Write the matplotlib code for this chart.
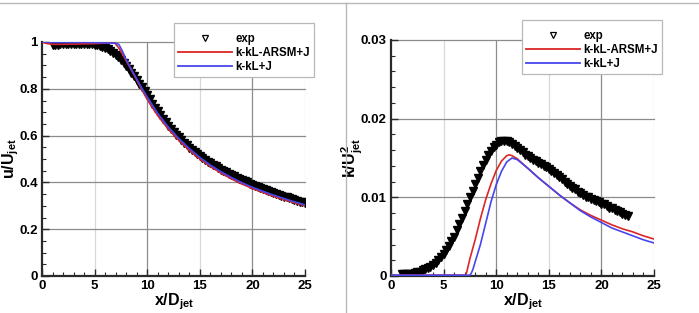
import matplotlib

matplotlib.use("Agg")
import matplotlib.pyplot as plt
from matplotlib.lines import Line2D
from matplotlib.ticker import MultipleLocator

plt.rcParams["font.family"] = ["Liberation Sans", "DejaVu Sans"]
plt.rcParams["font.weight"] = "bold"
plt.rcParams["mathtext.fontset"] = "custom"
plt.rcParams["mathtext.rm"] = "Liberation Sans"
plt.rcParams["mathtext.bf"] = "Liberation Sans:bold"
plt.rcParams["mathtext.it"] = "Liberation Sans:italic"

# ---- left panel: centreline velocity decay ----
u_exp_x = [1.0, 1.25, 1.5, 1.75, 2.0, 2.25, 2.5, 2.75, 3.0, 3.25, 3.5, 3.75,
           4.0, 4.25, 4.5, 4.75, 5.0, 5.25, 5.5, 5.75, 6.0, 6.25, 6.5, 6.75,
           7.0, 7.25, 7.5, 7.75, 8.0, 8.25, 8.5, 8.75, 9.0, 9.25, 9.5, 9.75,
           10.0, 10.25, 10.5, 10.75, 11.0, 11.25, 11.5, 11.75, 12.0, 12.25,
           12.5, 12.75, 13.0, 13.25, 13.5, 13.75, 14.0, 14.25, 14.5, 14.75,
           15.0, 15.25, 15.5, 15.75, 16.0, 16.25, 16.5, 16.75, 17.0, 17.25,
           17.5, 17.75, 18.0, 18.25, 18.5, 18.75, 19.0, 19.25, 19.5, 19.75,
           20.0, 20.25, 20.5, 20.75, 21.0, 21.25, 21.5, 21.75, 22.0, 22.25,
           22.5, 22.75, 23.0, 23.25, 23.5, 23.75, 24.0, 24.25, 24.5, 24.75, 25.0]
u_exp = [0.986, 0.988, 0.989, 0.990, 0.990, 0.991, 0.991, 0.992, 0.992, 0.993,
         0.993, 0.993, 0.992, 0.992, 0.991, 0.990, 0.988, 0.986, 0.983, 0.979,
         0.974, 0.968, 0.961, 0.953, 0.944, 0.934, 0.923, 0.911, 0.898, 0.884,
         0.869, 0.854, 0.838, 0.822, 0.806, 0.790, 0.775, 0.756, 0.737, 0.720,
         0.703, 0.687, 0.672, 0.657, 0.643, 0.630, 0.617, 0.604, 0.592, 0.581,
         0.570, 0.560, 0.549, 0.540, 0.530, 0.521, 0.512, 0.504, 0.497, 0.489,
         0.482, 0.475, 0.468, 0.461, 0.455, 0.449, 0.443, 0.437, 0.431, 0.426,
         0.420, 0.415, 0.410, 0.405, 0.400, 0.395, 0.390, 0.385, 0.381, 0.376,
         0.371, 0.367, 0.363, 0.359, 0.355, 0.351, 0.347, 0.343, 0.339, 0.336,
         0.332, 0.329, 0.325, 0.322, 0.318, 0.315, 0.312]

u_model_x = [0.0, 0.5, 1.0, 2.0, 3.0, 4.0, 5.0, 6.0, 6.9, 7.3, 7.6, 8.0, 8.5,
             9.0, 9.5, 10.0, 11.0, 12.0, 13.0, 14.0, 15.0, 16.0, 17.0, 18.0,
             19.0, 20.0, 21.0, 22.0, 23.0, 24.0, 25.0]
u_arsm = [1.000, 0.993, 0.990, 0.990, 0.991, 0.992, 0.993, 0.995, 0.997, 0.975,
          0.952, 0.920, 0.880, 0.838, 0.795, 0.755, 0.685, 0.628, 0.580, 0.537,
          0.500, 0.468, 0.440, 0.415, 0.393, 0.374, 0.357, 0.341, 0.326, 0.313,
          0.300]
u_kkl = [1.000, 1.000, 0.998, 0.998, 0.998, 0.998, 0.997, 0.996, 0.995, 0.990,
         0.965, 0.925, 0.882, 0.842, 0.802, 0.765, 0.695, 0.637, 0.588, 0.545,
         0.507, 0.474, 0.446, 0.421, 0.399, 0.379, 0.362, 0.346, 0.331, 0.317,
         0.304]

# ---- right panel: centreline turbulent kinetic energy ----
k_exp_x = [1.0, 1.25, 1.5, 1.75, 2.0, 2.25, 2.5, 2.75, 3.0, 3.25, 3.5, 3.75,
           4.0, 4.25, 4.5, 4.75, 5.0, 5.25, 5.5, 5.75, 6.0, 6.25, 6.5, 6.75,
           7.0, 7.25, 7.5, 7.75, 8.0, 8.25, 8.5, 8.75, 9.0, 9.25, 9.5, 9.75,
           10.0, 10.25, 10.5, 10.75, 11.0, 11.25, 11.5, 11.75, 12.0, 12.25,
           12.5, 12.75, 13.0, 13.25, 13.5, 13.75, 14.0, 14.25, 14.5, 14.75,
           15.0, 15.25, 15.5, 15.75, 16.0, 16.25, 16.5, 16.75, 17.0, 17.25,
           17.5, 17.75, 18.0, 18.25, 18.5, 18.75, 19.0, 19.25, 19.5, 19.75,
           20.0, 20.25, 20.5, 20.75, 21.0, 21.25, 21.5, 21.75, 22.0, 22.25, 22.5]
k_exp = [0.00020, 0.00020, 0.00020, 0.00025, 0.00030, 0.00035, 0.00045, 0.00055,
         0.00070, 0.00085, 0.00100, 0.00120, 0.00140, 0.00170, 0.00200, 0.00240,
         0.00280, 0.00330, 0.00380, 0.00440, 0.00500, 0.00580, 0.00660, 0.00740,
         0.00830, 0.00910, 0.01000, 0.01080, 0.01170, 0.01250, 0.01330, 0.01410,
         0.01480, 0.01540, 0.01590, 0.01640, 0.01670, 0.01700, 0.01710, 0.01720,
         0.01710, 0.01700, 0.01680, 0.01650, 0.01630, 0.01600, 0.01570, 0.01540,
         0.01520, 0.01500, 0.01480, 0.01460, 0.01440, 0.01420, 0.01400, 0.01380,
         0.01360, 0.01340, 0.01310, 0.01290, 0.01260, 0.01230, 0.01200, 0.01170,
         0.01150, 0.01120, 0.01100, 0.01070, 0.01050, 0.01030, 0.01010, 0.01000,
         0.00980, 0.00970, 0.00950, 0.00940, 0.00920, 0.00910, 0.00890, 0.00870,
         0.00860, 0.00840, 0.00820, 0.00810, 0.00790, 0.00770, 0.00760]

k_arsm_x = [0.0, 7.1, 7.2, 7.5, 7.75, 8.0, 8.5, 9.0, 9.5, 10.0, 10.5, 11.0,
            11.25, 11.5, 12.0, 13.0, 14.0, 15.0, 16.0, 17.0, 18.0, 19.0, 20.0,
            21.0, 22.0, 23.0, 24.0, 25.0]
k_arsm = [0.0001, 0.0001, 0.0005, 0.0022, 0.0034, 0.0046, 0.0073, 0.0097,
          0.0117, 0.0134, 0.0146, 0.0153, 0.0154, 0.0153, 0.0149, 0.0137,
          0.0125, 0.0114, 0.0103, 0.0093, 0.0084, 0.0077, 0.0071, 0.0065,
          0.0060, 0.0056, 0.0051, 0.0047]
k_kkl_x = [0.0, 7.5, 7.65, 7.8, 8.0, 8.5, 9.0, 9.5, 10.0, 10.5, 11.0, 11.5,
           12.0, 13.0, 14.0, 15.0, 16.0, 17.0, 18.0, 19.0, 20.0, 21.0, 22.0,
           23.0, 24.0, 25.0]
k_kkl = [0.0001, 0.0001, 0.0004, 0.0009, 0.0018, 0.0040, 0.0067, 0.0094,
         0.0116, 0.0133, 0.0145, 0.0150, 0.0148, 0.0137, 0.0125, 0.0114,
         0.0103, 0.0093, 0.0083, 0.0075, 0.0068, 0.0061, 0.0056, 0.0051,
         0.0046, 0.0042]

x_ticks = [0, 5, 10, 15, 20, 25]
u_ticks = [0, 0.2, 0.4, 0.6, 0.8, 1.0]
u_ticklabels = ["0", "0.2", "0.4", "0.6", "0.8", "1"]
k_ticks = [0, 0.01, 0.02, 0.03]
k_ticklabels = ["0", "0.01", "0.02", "0.03"]
legend_labels = ["exp", "k-kL-ARSM+J", "k-kL+J"]

RED = "#dc2626"
BLUE = "#4646ee"
SPINE = "#2a2a2a"
GRID_DARK = "#8c8c8c"
GRID_LIGHT = "#d8d8d8"
FRAME = "#b8b8b8"


def style_axes(ax, ymax, yticks, yticklabels, yminor):
    ax.set_xlim(0, 25)
    ax.set_ylim(0, ymax)
    for s in ("top", "right"):
        ax.spines[s].set_visible(False)
    for s in ("left", "bottom"):
        ax.spines[s].set_color(SPINE)
        ax.spines[s].set_linewidth(1.6)
    ax.set_xticks(x_ticks)
    ax.set_xticklabels([str(t) for t in x_ticks])
    ax.set_yticks(yticks)
    ax.set_yticklabels(yticklabels)
    ax.xaxis.set_minor_locator(MultipleLocator(1))
    ax.yaxis.set_minor_locator(MultipleLocator(yminor))
    ax.tick_params(which="major", direction="in", length=5, width=1,
                   color=SPINE, labelsize=9.5, pad=3)
    ax.tick_params(which="minor", direction="in", length=3, width=0.8,
                   color=SPINE)
    # grid lines drawn by hand so they can differ in shade like the original
    for xv in x_ticks[1:]:
        c = GRID_DARK if xv in (10, 20) else GRID_LIGHT
        ax.axvline(xv, color=c, lw=0.9, zorder=0.5)
    for yv in yticks[1:]:
        ax.axhline(yv, color=GRID_DARK, lw=0.9, zorder=0.5, clip_on=False)


def add_legend(ax, anchor):
    handles = [
        Line2D([], [], ls="none", marker="v", ms=4.5, mfc="white",
               mec="black", mew=0.9),
        Line2D([], [], color=RED, lw=1.3),
        Line2D([], [], color=BLUE, lw=1.3),
    ]
    # a tiny blank title gives the extra room above the first row
    leg = ax.legend(handles, legend_labels, loc="upper left",
                    bbox_to_anchor=anchor, bbox_transform=ax.figure.transFigure,
                    fontsize=8.3, frameon=True, fancybox=False, framealpha=1,
                    edgecolor=FRAME, handlelength=4.7, handletextpad=0.25,
                    labelspacing=0.18, borderpad=0.35, borderaxespad=0,
                    numpoints=1, title=" ", title_fontsize=3)
    leg.get_frame().set_linewidth(0.9)
    leg.set_zorder(10)


def plot_exp(ax, x, y):
    # markers are so dense in the original that they read as a solid band
    ax.plot(x, y, ls="none", marker="v", ms=5.5, mfc="black",
            mec="black", mew=1.0, zorder=2)


fig = plt.figure(figsize=(6.99, 3.13), dpi=100)

ax1 = fig.add_axes([42 / 699, 1 - 276 / 313, 263 / 699, 234 / 313])
ax2 = fig.add_axes([391 / 699, 1 - 276 / 313, 263 / 699, 236 / 313])

# left
style_axes(ax1, 1.0, u_ticks, u_ticklabels, 0.05)
plot_exp(ax1, u_exp_x, u_exp)
ax1.plot(u_model_x, u_arsm, color=RED, lw=1.2, zorder=3)
ax1.plot(u_model_x, u_kkl, color=BLUE, lw=1.2, zorder=3)
ax1.set_xlabel(r"$\mathbf{x/D_{jet}}$", fontsize=11.5)
ax1.xaxis.set_label_coords(0.5, -0.065)
ax1.set_ylabel(r"$\mathbf{u/U_{jet}}$", fontsize=11.5)
ax1.yaxis.set_label_coords(-0.078, 0.5)
add_legend(ax1, (174 / 699, 1 - 23 / 313))

# right
style_axes(ax2, 0.03, k_ticks, k_ticklabels, 0.002)
plot_exp(ax2, k_exp_x, k_exp)
ax2.plot(k_arsm_x, k_arsm, color=RED, lw=1.2, zorder=3)
ax2.plot(k_kkl_x, k_kkl, color=BLUE, lw=1.2, zorder=3)
ax2.set_xlabel(r"$\mathbf{x/D_{jet}}$", fontsize=11.5)
ax2.xaxis.set_label_coords(0.5, -0.065)
ax2.set_ylabel(r"$\mathbf{k/U_{jet}^{2}}$", fontsize=11.5)
ax2.yaxis.set_label_coords(-0.1, 0.5)
add_legend(ax2, (522 / 699, 1 - 20 / 313))

# panel frames
fig.add_artist(Line2D([0, 1], [1 - 2.5 / 313, 1 - 2.5 / 313],
                      transform=fig.transFigure, color=FRAME, lw=1))
fig.add_artist(Line2D([346 / 699, 346 / 699], [0, 1 - 2.5 / 313],
                      transform=fig.transFigure, color=FRAME, lw=1))

fig.savefig("out.png", dpi=100)
